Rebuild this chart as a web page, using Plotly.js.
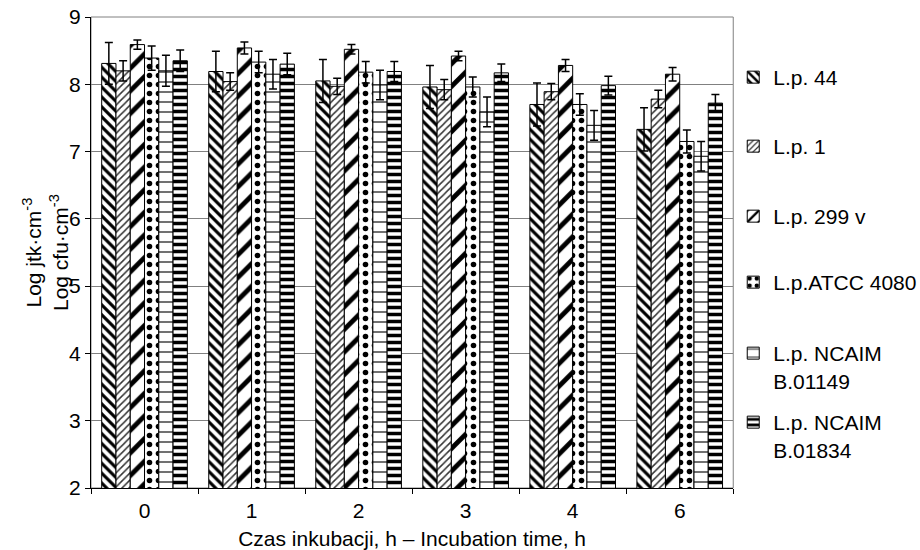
<!DOCTYPE html>
<html><head><meta charset="utf-8">
<script src="https://cdn.plot.ly/plotly-3.0.1.min.js"></script>
<style>body{margin:0;background:#fff}</style>
</head><body><div id="chart" style="width:920px;height:550px"></div>
<script>
const categories = ['0','1','2','3','4','6'];
const seriesNames = ['L.p. 44','L.p. 1','L.p. 299 v','L.p.ATCC 4080','L.p. NCAIM<br>B.01149','L.p. NCAIM<br>B.01834'];
const lp44 = [8.31,8.19,8.05,7.96,7.70,7.33];
const lp44Err = [0.31,0.30,0.32,0.32,0.32,0.32];
const lp1 = [8.20,8.04,7.97,7.92,7.89,7.78];
const lp1Err = [0.15,0.13,0.12,0.15,0.12,0.13];
const lp299v = [8.59,8.54,8.52,8.42,8.28,8.15];
const lp299vErr = [0.07,0.09,0.07,0.07,0.09,0.10];
const atcc4080 = [8.39,8.33,8.18,7.96,7.70,7.15];
const atcc4080Err = [0.18,0.16,0.16,0.15,0.16,0.17];
const b01149 = [8.20,8.15,7.99,7.59,7.39,6.93];
const b01149Err = [0.23,0.22,0.22,0.22,0.22,0.22];
const b01834 = [8.35,8.30,8.19,8.17,7.98,7.72];
const b01834Err = [0.16,0.16,0.15,0.13,0.14,0.13];

const values = [lp44, lp1, lp299v, atcc4080, b01149, b01834];
const errors = [lp44Err, lp1Err, lp299vErr, atcc4080Err, b01149Err, b01834Err];
const patterns = [
  {shape:'\\', size:7, solidity:0.45, fgcolor:'#000', bgcolor:'#fff', fillmode:'replace'},
  {shape:'/', size:5, solidity:0.3, fgcolor:'#333', bgcolor:'#fff', fillmode:'replace'},
  {shape:'/', size:16, solidity:0.3, fgcolor:'#000', bgcolor:'#fff', fillmode:'replace'},
  {shape:'.', size:9, solidity:0.3, fgcolor:'#000', bgcolor:'#fff', fillmode:'replace'},
  {shape:'-', size:10, solidity:0.14, fgcolor:'#333', bgcolor:'#fff', fillmode:'replace'},
  {shape:'-', size:7, solidity:0.5, fgcolor:'#000', bgcolor:'#fff', fillmode:'replace'}
];
// pixel top of each legend entry (one small legend per series)
const legendTops = [57, 126, 196, 262, 333, 402];

const traces = values.map((v, i) => ({
  type:'bar', x:categories, y:v, name:seriesNames[i],
  legend: i === 0 ? 'legend' : 'legend' + (i + 1),
  marker:{color:'#fff', pattern:patterns[i], line:{color:'#000', width:1}},
  error_y:{type:'data', array:errors[i], symmetric:true, visible:true, color:'#000', thickness:1.5, width:4}
}));

const layout = {
  width:920, height:550,
  margin:{l:91, r:179, t:17, b:62},
  paper_bgcolor:'#fff', plot_bgcolor:'#fff',
  font:{family:'"Liberation Sans", Arial, sans-serif', size:21, color:'#000'},
  barmode:'group', bargap:0.2, bargroupgap:0,
  showlegend:true,
  xaxis:{type:'category', showline:true, linecolor:'#000', linewidth:1, ticks:'outside', tickson:'boundaries',
         ticklen:5, tickcolor:'#000', showgrid:false, zeroline:false, ticklabelstandoff:4,
         title:{text:'Czas inkubacji, h – Incubation time, h', font:{size:21}, standoff:10}},
  yaxis:{range:[2,9], dtick:1, showline:true, linecolor:'#000', linewidth:1, ticks:'outside', ticklen:5,
         tickcolor:'#000', gridcolor:'#808080', gridwidth:1, zeroline:false},
  annotations:[{text:'Log jtk·cm<sup>-3</sup><br>Log cfu·cm<sup>-3</sup>', textangle:-90,
                xref:'paper', yref:'paper', x:(45 - 91) / 650, y:0.5, xanchor:'center', yanchor:'middle',
                showarrow:false, font:{size:21}}],
  shapes:[{type:'rect', xref:'paper', yref:'paper', x0:0, x1:1, y0:0, y1:1, line:{color:'#808080', width:1}, layer:'below'}]
};

legendTops.forEach((top, i) => {
  const key = i === 0 ? 'legend' : 'legend' + (i + 1);
  layout[key] = {xref:'container', yref:'container', x:0.797, y:1 - top / 550, xanchor:'left', yanchor:'top',
                 valign:'top', bgcolor:'rgba(0,0,0,0)', font:{size:21}};
});

Plotly.newPlot('chart', traces, layout, {displayModeBar:false, staticPlot:true});
</script></body></html>
